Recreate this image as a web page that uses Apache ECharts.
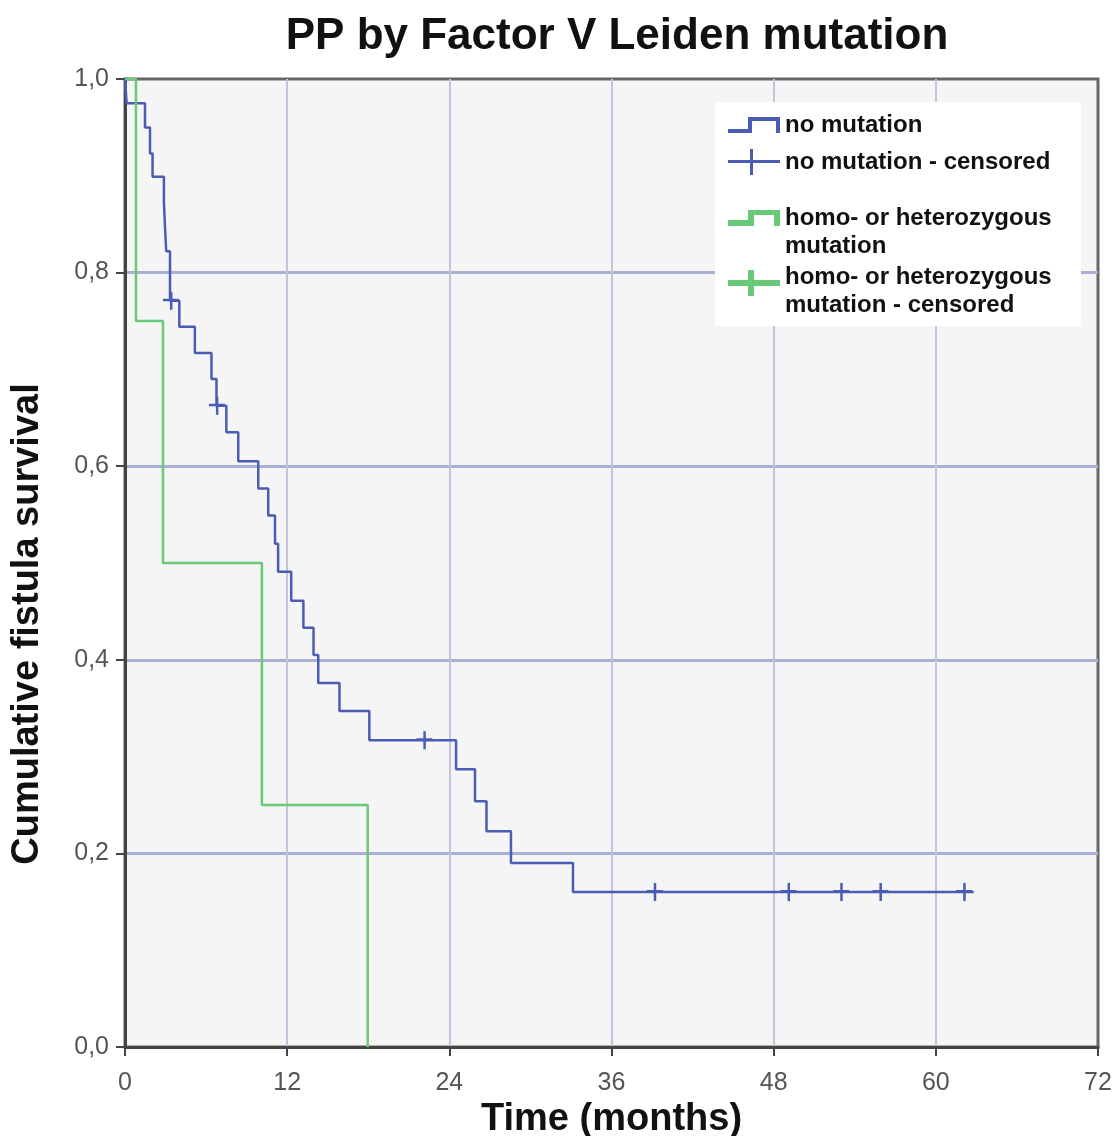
<!DOCTYPE html>
<html>
<head>
<meta charset="utf-8">
<title>PP by Factor V Leiden mutation</title>
<script src="https://cdn.jsdelivr.net/npm/echarts@6/dist/echarts.min.js"></script>
<style>
  html, body { margin: 0; padding: 0; background: #fff; }
  #main { width: 1119px; height: 1136px; }
</style>
</head>
<body>
<div id="main"></div>
<script>
// Kaplan-Meier steps (time in months, survival after the event)
var noMutTimes = [0, 0.12, 1.48, 1.85, 2.04, 2.88, 2.96, 3.05, 3.33, 4.02, 5.17, 6.4, 6.77, 7.5, 8.38, 9.86, 10.6, 11.1, 11.33, 12.3, 13.2, 13.95, 14.3, 15.87, 18.08, 24.5, 25.9, 26.75, 28.56, 33.15, 62.8];
var noMutSurv = [1.0, 0.975, 0.950, 0.923, 0.899, 0.873, 0.847, 0.822, 0.771, 0.744, 0.717, 0.690, 0.6625, 0.635, 0.605, 0.577, 0.549, 0.520, 0.491, 0.461, 0.433, 0.405, 0.376, 0.347, 0.317, 0.287, 0.254, 0.223, 0.190, 0.160, 0.160];
var noMutCensTimes = [3.4, 6.8, 22.15, 39.2, 49.1, 53.0, 55.9, 62.1];
var noMutCensSurv = [0.771, 0.6625, 0.317, 0.160, 0.160, 0.160, 0.160, 0.160];

var mutTimes = [0, 0.81, 2.81, 10.13, 17.96];
var mutSurv = [1.0, 0.75, 0.5, 0.25, 0.0];
var mutCensTimes = [];
var mutCensSurv = [];

var xTicks = [0, 12, 24, 36, 48, 60, 72];
var yTicks = [0, 0.2, 0.4, 0.6, 0.8, 1.0];

var seriesNames = ['no mutation', 'no mutation - censored', 'homo- or heterozygous\nmutation', 'homo- or heterozygous\nmutation - censored'];

var blue = '#4a5cb3';
var green = '#68c978';

function pairs(xs, ys) {
  return xs.map(function (x, i) { return [x, ys[i]]; });
}

var plusMark = 'path://M7,0 L9.5,0 L9.5,7 L16,7 L16,9.5 L9.5,9.5 L9.5,18 L7,18 L7,9.5 L0,9.5 L0,7 L7,7 Z';
var stepIcon = 'path://M0,12 L20,12 L20,0 L52,0 L52,16 L48,16 L48,4 L24,4 L24,16 L0,16 Z';
var plusIcon = 'path://M0,11 L22,11 L22,0 L25,0 L25,11 L52,11 L52,14 L25,14 L25,26 L22,26 L22,14 L0,14 Z';
// two-line entries: icon box as tall as the text, mark drawn next to the first line
var stepIconG = 'path://M0,0 L52,0 L52,0 Z M0,16 L20,16 L20,6 L52,6 L52,22 L46,22 L46,11 L26,11 L26,22 L0,22 Z M0,56 L52,56 L52,56 Z';
var plusIconG = 'path://M0,0 L52,0 L52,0 Z M0,17 L20,17 L20,7 L26,7 L26,17 L52,17 L52,23 L26,23 L26,33 L20,33 L20,23 L0,23 Z M0,56 L52,56 L52,56 Z';

var font = '"Liberation Sans", Arial, sans-serif';

function oneLegend(name, icon, h, top) {
  return {
    data: [{ name: name, icon: icon }],
    orient: 'vertical',
    left: 728,
    top: top,
    padding: 0,
    itemWidth: 52,
    itemHeight: h,
    itemStyle: { borderWidth: 0, opacity: 1 },
    selectedMode: false,
    z: 12,
    textStyle: {
      fontFamily: font,
      fontWeight: 'bold',
      fontSize: 24,
      color: '#111',
      lineHeight: 28
    }
  };
}

var chart = echarts.init(document.getElementById('main'));

var option = {
  animation: false,
  backgroundColor: '#fff',
  title: {
    text: 'PP by Factor V Leiden mutation',
    left: 612,
    textAlign: 'center',
    top: 10,
    textStyle: { fontFamily: font, fontWeight: 'bold', fontSize: 44, color: '#111' }
  },
  grid: {
    left: 125, right: 21, top: 79, bottom: 89,
    containLabel: false,
    outerBoundsMode: 'none',
    show: true,
    backgroundColor: '#f5f5f5',
    borderColor: '#666',
    borderWidth: 3
  },
  graphic: [{
    type: 'rect',
    z: 10,
    shape: { x: 715, y: 102, width: 366, height: 224 },
    style: { fill: '#fff' }
  }],
  legend: [
    oneLegend(seriesNames[0], stepIcon, 16, 111),
    oneLegend(seriesNames[1], plusIcon, 26, 148),
    oneLegend(seriesNames[2], stepIconG, 56, 204),
    oneLegend(seriesNames[3], plusIconG, 56, 263)
  ],
  xAxis: {
    type: 'value',
    min: 0, max: 72, interval: 12,
    name: 'Time (months)',
    nameLocation: 'middle',
    nameGap: 45,
    nameTextStyle: { fontFamily: font, fontWeight: 'bold', fontSize: 38, color: '#111' },
    axisLine: { show: true, lineStyle: { color: '#444', width: 3 } },
    axisTick: { show: true, length: 9, lineStyle: { color: '#444', width: 2 } },
    axisLabel: {
      margin: 24,
      fontFamily: font, fontSize: 25, color: '#555',
      formatter: function (v) { return xTicks.indexOf(v) >= 0 ? String(v) : ''; }
    },
    splitLine: { show: true, showMinLine: false, showMaxLine: false, lineStyle: { color: '#c2c5da', width: 2 } }
  },
  yAxis: {
    type: 'value',
    min: 0, max: 1, interval: 0.2,
    name: 'Cumulative fistula survival',
    nameLocation: 'middle',
    nameGap: 78,
    nameTextStyle: { fontFamily: font, fontWeight: 'bold', fontSize: 38, color: '#111', padding: [0, 122, 0, 0] },
    axisLine: { show: true, lineStyle: { color: '#444', width: 3 } },
    axisTick: { show: true, length: 9, lineStyle: { color: '#444', width: 2 } },
    axisLabel: {
      margin: 16,
      fontFamily: font, fontSize: 25, color: '#555',
      formatter: function (v) { return v.toFixed(1).replace('.', ','); }
    },
    splitLine: { show: true, showMinLine: false, showMaxLine: false, lineStyle: { color: '#aab0d4', width: 3 } }
  },
  series: [
    {
      name: seriesNames[0],
      type: 'line',
      step: 'end',
      showSymbol: false,
      color: blue,
      lineStyle: { color: blue, width: 2.5 },
      data: pairs(noMutTimes, noMutSurv),
      z: 3
    },
    {
      name: seriesNames[1],
      type: 'scatter',
      symbol: plusMark,
      symbolSize: [16, 18],
      color: blue,
      itemStyle: { color: blue, opacity: 1 },
      data: pairs(noMutCensTimes, noMutCensSurv),
      z: 4
    },
    {
      name: seriesNames[2],
      type: 'line',
      step: 'end',
      showSymbol: false,
      color: green,
      lineStyle: { color: green, width: 2.5 },
      data: pairs(mutTimes, mutSurv),
      z: 3
    },
    {
      name: seriesNames[3],
      type: 'scatter',
      symbol: plusMark,
      symbolSize: [16, 18],
      color: green,
      itemStyle: { color: green, opacity: 1 },
      data: pairs(mutCensTimes, mutCensSurv),
      z: 4
    }
  ]
};

chart.setOption(option);
</script>
</body>
</html>
